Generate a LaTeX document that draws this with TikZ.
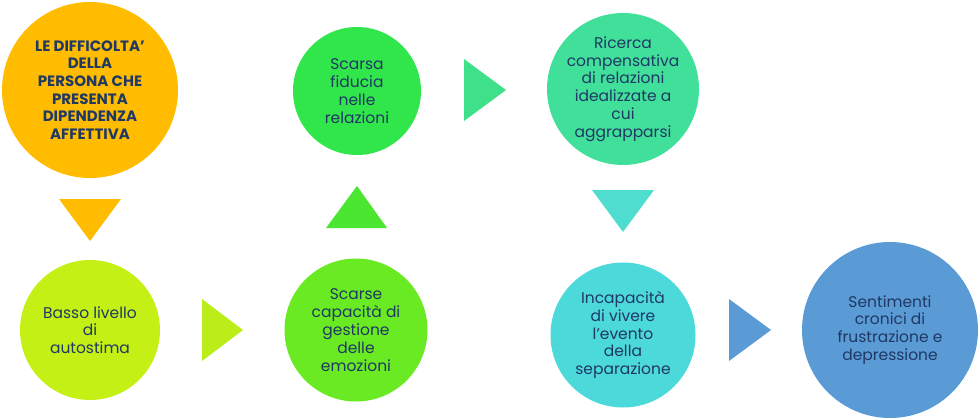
\documentclass[tikz,border=0pt]{standalone}
\usepackage{fontspec}
\setmainfont{Poppins}
\usetikzlibrary{positioning}

\definecolor{navytext}{HTML}{1F3864}
\definecolor{orangeA}{HTML}{FFBC00}
\definecolor{limeA}{HTML}{C5F016}
\definecolor{limeB}{HTML}{BBEE19}
\definecolor{greenA}{HTML}{6AEA22}
\definecolor{greenB}{HTML}{4BE62F}
\definecolor{greenC}{HTML}{31E64A}
\definecolor{mintA}{HTML}{3FE08A}
\definecolor{mintB}{HTML}{41E09A}
\definecolor{aquaA}{HTML}{4FDDD0}
\definecolor{aquaB}{HTML}{4CD9DA}
\definecolor{blueA}{HTML}{5B9BD5}

\begin{document}
\begin{tikzpicture}[x=1pt,y=-1pt,
  bubble/.style={circle, inner sep=-8pt, align=center, text=navytext,
    font=\fontsize{15.5}{17.8}\selectfont},
  titlebubble/.style={bubble, font=\fontsize{15}{17.6}\selectfont\bfseries}]
\useasboundingbox (0,0) rectangle (980,420);

%top row
\node[titlebubble, fill=orangeA, minimum size=176pt] (diff) at (90,90)
  {LE DIFFICOLTA'\\DELLA\\PERSONA CHE\\PRESENTA\\DIPENDENZA\\AFFETTIVA};
\node[bubble, fill=greenC, minimum size=128pt] (fiducia) at (357,91)
  {Scarsa\\fiducia\\nelle\\relazioni};
\node[bubble, fill=mintB, minimum size=152pt] (ricerca) at (623,89)
  {Ricerca\\compensativa\\di relazioni\\idealizzate a\\cui\\aggrapparsi};

%bottom row
\node[bubble, fill=limeA, minimum size=140pt] (autostima) at (90,330)
  {Basso livello\\di\\autostima};
\node[bubble, fill=greenA, minimum size=143pt] (emozioni) at (356,330)
  {Scarse\\capacità di\\gestione\\delle\\emozioni};
\node[bubble, fill=aquaB, minimum size=145pt] (separazione) at (623,335)
  {Incapacità\\di vivere\\l'evento\\della\\separazione};
\node[bubble, fill=blueA, minimum size=176pt] (sentimenti) at (890,330)
  {Sentimenti\\cronici di\\frustrazione e\\depressione};

%triangles between the circles
\fill[orangeA] (59,199) -- (121,199) -- (90,241) -- cycle;
\fill[limeB] (202,299) -- (202,361) -- (243,330) -- cycle;
\fill[greenB] (326,228) -- (387,228) -- (357,186) -- cycle;
\fill[mintA] (464,59) -- (464,121) -- (506,90) -- cycle;
\fill[aquaA] (592,190) -- (654,190) -- (623,232) -- cycle;
\fill[blueA] (729,299) -- (729,361) -- (771,330) -- cycle;

\end{tikzpicture}
\end{document}
